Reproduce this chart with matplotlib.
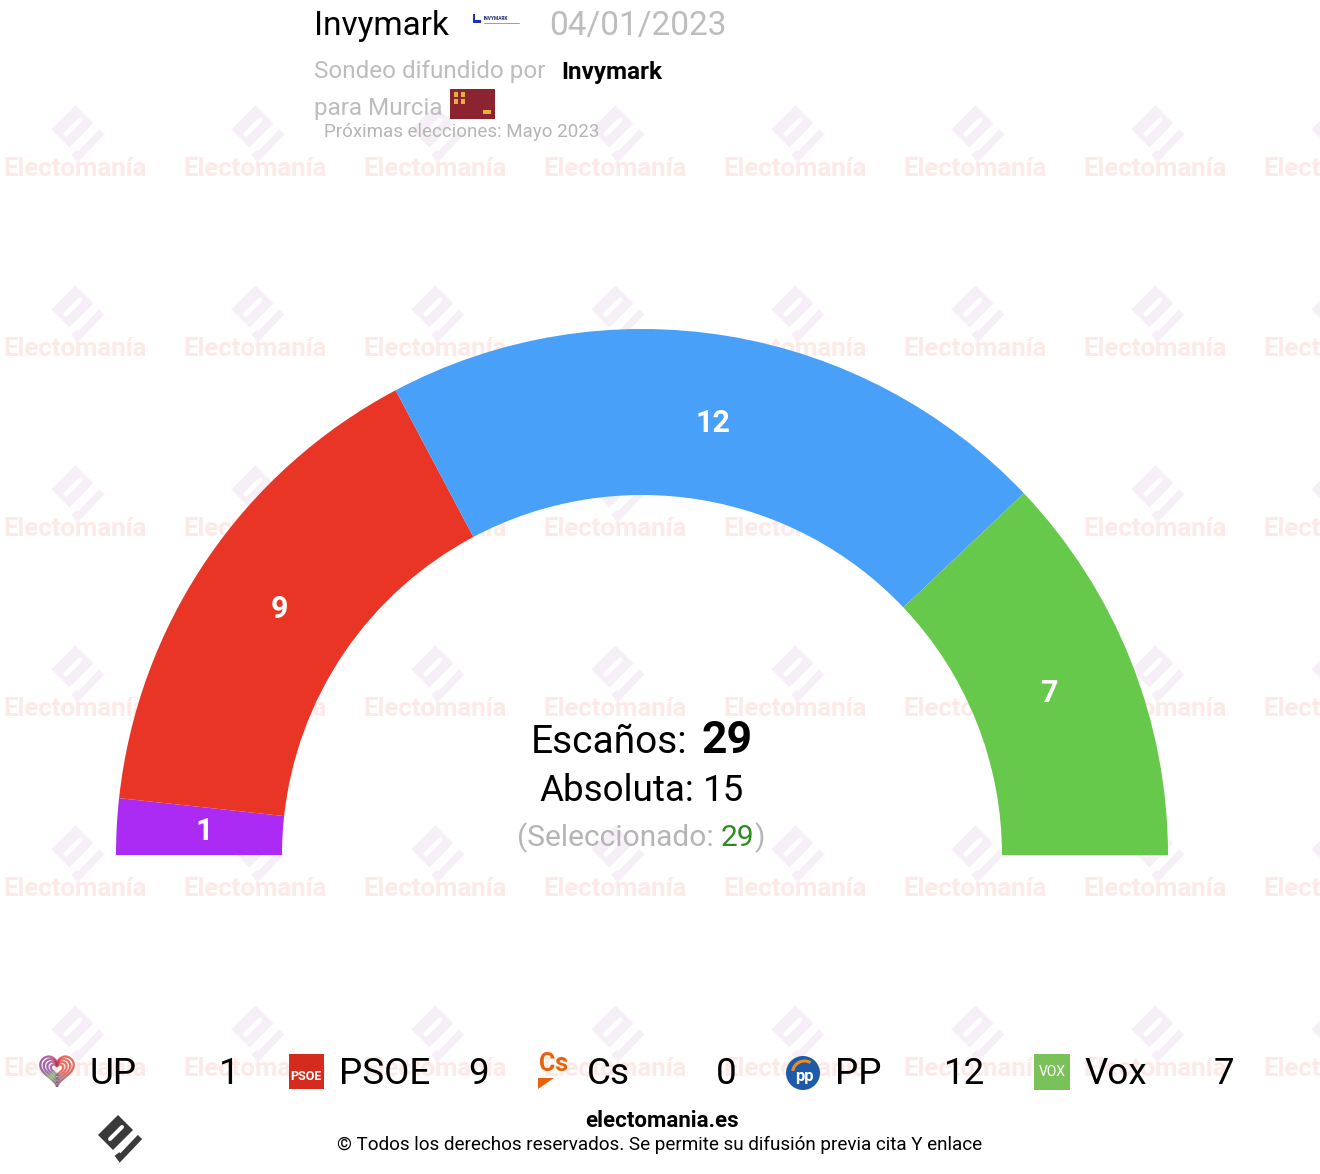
import numpy as np
import matplotlib
matplotlib.use('Agg')
import matplotlib.pyplot as plt
from matplotlib.patches import Wedge, Rectangle, Circle, Polygon, Arc
from matplotlib.collections import LineCollection

plt.rcParams['font.family'] = ['Roboto', 'DejaVu Sans']

# data
parties = ['UP', 'PSOE', 'Cs', 'PP', 'Vox']
seats = [1, 9, 0, 12, 7]
colors = ['#AB2BF4', '#E93526', '#EB6109', '#48A0F8', '#67C94C']
total_seats = 29
majority = 15
selected = 29

pollster = 'Invymark'
poll_date = '04/01/2023'
region = 'Murcia'
next_election = 'Próximas elecciones: Mayo 2023'

W, H = 1320, 1174
fig = plt.figure(figsize=(W / 100, H / 100), dpi=100)
ax = fig.add_axes([0, 0, 1, 1])
ax.set_xlim(0, W)
ax.set_ylim(H, 0)
ax.axis('off')
rend = fig.canvas.get_renderer()


def draw_logo(cx, cy, s, color, z, slot='white'):
    pts = np.array([(2, -18), (17, -3), (-3, 17), (-18, 2)]) * s + [cx, cy]
    ax.add_patch(Polygon(pts, closed=True, facecolor=color, edgecolor='none', zorder=z))
    sl = np.array([(6, -6), (-6, 6)]) * s + [cx, cy]
    ax.plot(sl[:, 0], sl[:, 1], color=slot, lw=4 * s * 0.72, solid_capstyle='round', zorder=z + 0.1)
    ck = np.array([(1, 21), (4, 25), (24, 4)]) * s + [cx, cy]
    ax.plot(ck[:, 0], ck[:, 1], color=color, lw=6 * s * 0.72, solid_capstyle='butt',
            solid_joinstyle='miter', zorder=z)


# watermark grid
for j in range(6):
    for k in range(8):
        x = 75 + 180 * k
        y = 176 + 180 * j
        ax.text(x, y, 'Electomanía', ha='center', va='baseline', fontsize=18.5,
                fontweight='bold', color='#fdeae7', zorder=0)
        draw_logo(x - 2, y - 49, 1.2, '#f6eff7', 0, slot='white')

# gauge
cx, cy = 642, 855
R, ring = 526, 166
start = 180.0
for s, c in zip(seats, colors):
    if s == 0:
        continue
    end = start + s / total_seats * 180
    ax.add_patch(Wedge((cx, cy), R, start, end, width=ring, facecolor=c,
                       edgecolor='none', zorder=2))
    mid = np.radians((start + end) / 2)
    ax.text(cx + 438 * np.cos(mid), cy + 438 * np.sin(mid), str(s), ha='center',
            va='center', color='white', fontsize=22, fontweight='bold', zorder=3)
    start = end


def seq_text(x, y, parts, gaps):
    objs = []
    for s, props in parts:
        objs.append(ax.text(0, y, s, va='baseline', ha='left', zorder=4, **props))
    widths = [t.get_window_extent(renderer=rend).width for t in objs]
    tot = sum(widths) + sum(gaps)
    x0 = x - tot / 2
    for i, (t, wd) in enumerate(zip(objs, widths)):
        t.set_x(x0)
        x0 += wd + (gaps[i] if i < len(gaps) else 0)


seq_text(642, 753, [('Escaños:', dict(fontsize=28, color='black')),
                    (str(total_seats), dict(fontsize=32, color='black', fontweight='bold'))], [14])
seq_text(642, 801, [('Absoluta:', dict(fontsize=26.5, color='black')),
                    (str(majority), dict(fontsize=26.5, color='black'))], [9])
seq_text(641, 846, [('(Seleccionado:', dict(fontsize=21.5, color='#b5b5b5')),
                    (str(selected), dict(fontsize=21.5, color='#2E8B22')),
                    (')', dict(fontsize=21.5, color='#b5b5b5'))], [7, 0])

# header
ax.text(314, 35, pollster, fontsize=24, va='baseline', color='black')
ax.add_patch(Rectangle((473, 14), 8, 9, facecolor='#1a2fbf', edgecolor='none'))
ax.add_patch(Rectangle((475, 14), 6, 6, facecolor='white', edgecolor='none'))
ax.text(484, 18.5, 'INVYMARK', fontsize=3.5, fontweight='bold', color='#1a2a6c', va='center')
ax.plot([484, 519], [23, 23], color='#555555', lw=0.4)
ax.text(549, 35, poll_date, fontsize=24, va='baseline', color='#bdbdbd')
ax.text(314, 78, 'Sondeo difundido por', fontsize=17.5, va='baseline', color='#bdbdbd')
ax.text(561, 79, pollster, fontsize=17.5, va='baseline', color='black', fontweight='bold')
ax.text(314, 115, 'para ' + region, fontsize=17.5, va='baseline', color='#bdbdbd')
ax.add_patch(Rectangle((450, 89), 45, 30, facecolor='#8B2430', edgecolor='none', zorder=3))
for fx, fy in [(454, 92), (461, 92), (454, 99), (461, 99)]:
    ax.add_patch(Rectangle((fx, fy), 4, 5, facecolor='#E3B23C', edgecolor='none', zorder=4))
ax.add_patch(Rectangle((483, 110), 8, 4, facecolor='#E3B23C', edgecolor='none', zorder=4))
ax.text(324, 137, next_election, fontsize=13.5, va='baseline', color='#b5b5b5', zorder=4)


# legend icons
up_cmap = matplotlib.colors.LinearSegmentedColormap.from_list(
    'up', [(0, '#7B3A8F'), (0.13, '#6AA84F'), (0.25, '#7A4A6E'), (0.5, '#E53B2C'),
           (0.68, '#E53B2C'), (0.8, '#B23070'), (0.9, '#7B2E8E'), (1, '#7B3A8F')])


def heart(x0, yc):
    t = np.linspace(0, 2 * np.pi, 240)
    hx = 16 * np.sin(t) ** 3
    hy = 13 * np.cos(t) - 5 * np.cos(2 * t) - 2 * np.cos(3 * t) - np.cos(4 * t)
    for sc in [1.05, 0.83, 0.61, 0.39]:
        px = x0 + 17 + hx * sc
        py = yc - 2 - hy * sc
        pts = np.column_stack([px, py]).reshape(-1, 1, 2)
        segs = np.concatenate([pts[:-1], pts[1:]], axis=1)
        lc = LineCollection(segs, cmap=up_cmap, linewidths=1.5, zorder=4,
                            norm=plt.Normalize(-np.pi, np.pi))
        lc.set_array(np.arctan2(yc - py, px - x0 - 17)[:-1])
        ax.add_collection(lc)


def icon(name, x0, yc):
    if name == 'UP':
        heart(x0, yc)
    elif name == 'PSOE':
        ax.add_patch(Rectangle((x0, yc - 17), 35, 35, facecolor='#D52B1E', edgecolor='none', zorder=4))
        ax.text(x0 + 17.5, yc + 5, 'PSOE', color='white', fontsize=9, fontweight='bold',
                ha='center', va='center', zorder=5)
    elif name == 'Cs':
        ax.text(x0 + 17, yc - 7, 'Cs', color='#EB6109', fontsize=18, fontweight='bold',
                ha='center', va='center', zorder=5)
        ax.add_patch(Polygon([(x0 + 1, yc + 7), (x0 + 17, yc + 7), (x0 + 1, yc + 18)],
                             facecolor='#EB6109', edgecolor='none', zorder=5))
    elif name == 'PP':
        ax.add_patch(Circle((x0 + 17.5, yc + 2), 17, facecolor='#1D5BA8', edgecolor='none', zorder=4))
        ax.add_patch(Arc((x0 + 19, yc + 2), 24, 24, theta1=190, theta2=300, color='#F08A1D',
                         lw=2.2, zorder=5))
        ax.text(x0 + 19, yc + 5, 'pp', color='white', fontsize=12, fontweight='bold',
                ha='center', va='center', zorder=5)
    elif name == 'Vox':
        ax.add_patch(Rectangle((x0, yc - 17), 36, 36, facecolor='#7BC15A', edgecolor='none', zorder=4))
        ax.text(x0 + 18, yc + 1, 'VOX', color='white', fontsize=10, ha='center', va='center', zorder=5)


for i, (p, s) in enumerate(zip(parties, seats)):
    x0 = 40 + 248.5 * i
    icon(p, x0, 1071)
    ax.text(x0 + 50, 1084, p, fontsize=26.5, va='baseline', color='black', zorder=4)
    ax.text(x0 + 200, 1084, str(s), fontsize=26.5, va='baseline', ha='right', color='black', zorder=4)

# footer
ax.text(662, 1127, 'electomania.es', fontsize=16, fontweight='bold', ha='center', va='baseline')
ax.text(660, 1150, '© Todos los derechos reservados. Se permite su difusión previa cita Y enlace',
        fontsize=13.6, ha='center', va='baseline')
draw_logo(116, 1133, 1.0, '#3a3a3a', 5)

fig.savefig('out.png', dpi=100)
